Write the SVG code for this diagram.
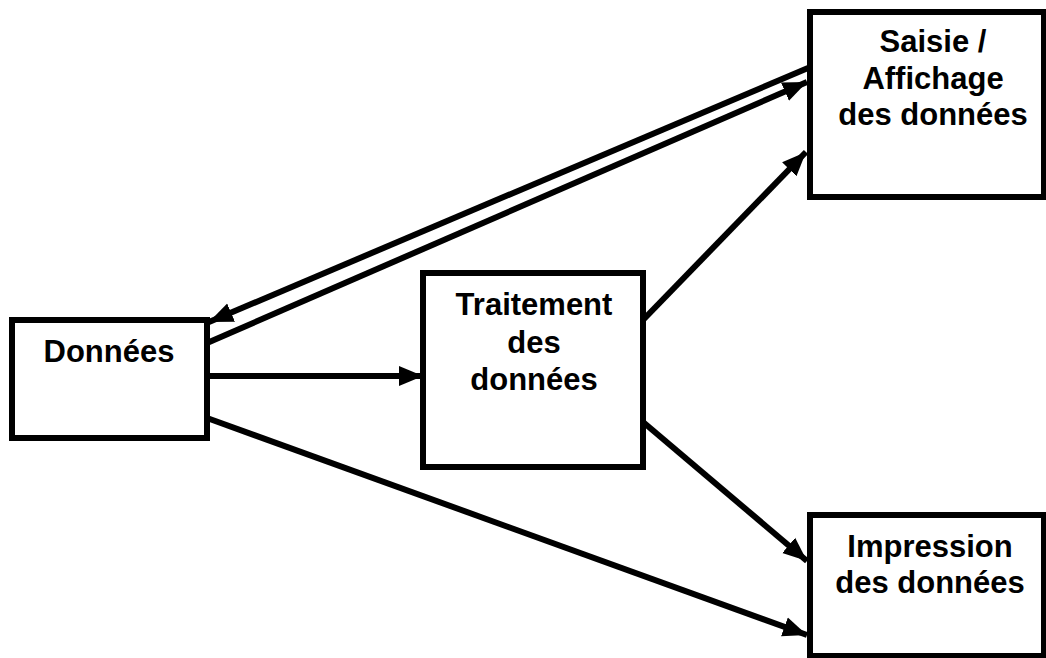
<svg xmlns="http://www.w3.org/2000/svg" width="1046" height="658" viewBox="0 0 1046 658">
<style>
.box{fill:#fff;stroke:#000;stroke-width:6}
.t{font-family:"Liberation Sans",Arial,sans-serif;font-weight:bold;font-size:31px;fill:#000;text-anchor:middle}
.c{stroke:#000;stroke-width:6;fill:none}
</style>
<defs>
<marker id="ah" markerUnits="userSpaceOnUse" markerWidth="26" markerHeight="22" refX="24" refY="11" orient="auto">
<path d="M0,1 L24,11 L0,21 Z" fill="#000"/>
</marker>
</defs>
<rect width="1046" height="658" fill="#fff"/>
<g id="connectors">
<line class="c" x1="808" y1="68" x2="209" y2="322" marker-end="url(#ah)"/>
<line class="c" x1="207" y1="343" x2="807" y2="82" marker-end="url(#ah)"/>
<line class="c" x1="207" y1="376" x2="423" y2="376" marker-end="url(#ah)"/>
<line class="c" x1="643" y1="320" x2="806" y2="152" marker-end="url(#ah)"/>
<line class="c" x1="643" y1="422" x2="807" y2="561" marker-end="url(#ah)"/>
<line class="c" x1="207" y1="418" x2="807" y2="635" marker-end="url(#ah)"/>
</g>
<g id="saisie">
<rect class="box" x="810" y="12" width="234" height="185"/>
<text class="t" x="933" y="52">Saisie /</text>
<text class="t" x="933" y="89">Affichage</text>
<text class="t" x="933" y="125">des données</text>
</g>
<g id="donnees">
<rect class="box" x="12" y="320" width="195" height="118"/>
<text class="t" x="109" y="362">Données</text>
</g>
<g id="traitement">
<rect class="box" x="423" y="273" width="220" height="194"/>
<text class="t" x="534" y="315">Traitement</text>
<text class="t" x="534" y="353">des</text>
<text class="t" x="534" y="390">données</text>
</g>
<g id="impression">
<rect class="box" x="810" y="515" width="234" height="141"/>
<text class="t" x="930" y="557">Impression</text>
<text class="t" x="930" y="593">des données</text>
</g>
</svg>
